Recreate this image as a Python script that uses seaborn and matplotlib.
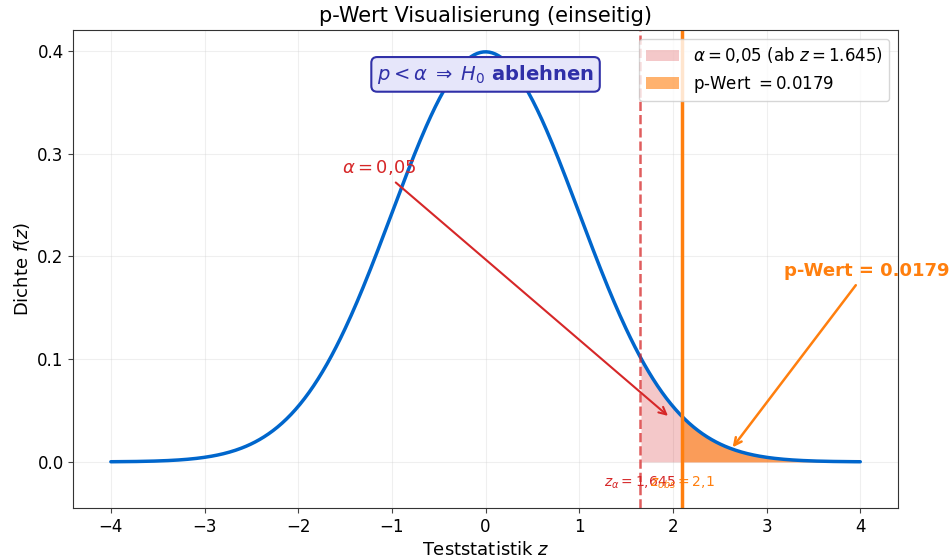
import numpy as np
import pandas as pd
import matplotlib
matplotlib.use("Agg")
import matplotlib.pyplot as plt
import seaborn as sns

# Kennwerte des einseitigen Tests
alpha = 0.05
z_alpha = 1.645
z_obs = 2.1
p_wert = 0.0179
z_range = [-4, 4]

# Standardnormalverteilung
z = np.linspace(z_range[0], z_range[1], 500)
dichte = np.exp(-z ** 2 / 2) / np.sqrt(2 * np.pi)
df = pd.DataFrame({"z": z, "f": dichte})

sns.set_style("ticks", {"axes.edgecolor": "#333333", "text.color": "black",
                        "axes.labelcolor": "black", "xtick.color": "#444444",
                        "ytick.color": "#444444"})
plt.rcParams["font.family"] = ["DejaVu Sans"]

fig, ax = plt.subplots(figsize=(9.53, 5.59), dpi=100)

sns.lineplot(data=df, x="z", y="f", color="#0066cc", linewidth=2.5, ax=ax)

# Ablehnungsbereich und p-Wert-Fläche
mask_a = df["z"] >= z_alpha
ax.fill_between(df["z"][mask_a], df["f"][mask_a], color="#d62728", alpha=0.25,
                linewidth=0, label=r"$\alpha = 0{,}05$ (ab $z = 1.645$)")
mask_p = df["z"] >= z_obs
ax.fill_between(df["z"][mask_p], df["f"][mask_p], color="#ff7f0e", alpha=0.6,
                linewidth=0, label=r"p-Wert $= 0.0179$")

ax.axvline(z_alpha, color="#d62728", linestyle="--", linewidth=1.8, alpha=0.75)
ax.axvline(z_obs, color="#ff7f0e", linewidth=2.5)

# Beschriftungen
ax.annotate(r"$\alpha = 0{,}05$", xy=(1.97, 0.043), xytext=(-1.14, 0.286),
            ha="center", va="center", color="#d62728", fontsize=13,
            arrowprops=dict(arrowstyle="->", color="#d62728", lw=1.5))
ax.annotate("p-Wert = 0.0179", xy=(2.62, 0.012), xytext=(4.07, 0.186),
            ha="center", va="center", color="#ff7f0e", fontsize=13,
            fontweight="bold",
            arrowprops=dict(arrowstyle="->", color="#ff7f0e", lw=1.8))

ax.text(z_alpha, -0.02, r"$z_\alpha = 1{,}645$", color="#d62728",
        ha="center", va="center", fontsize=10)
ax.text(z_obs, -0.02, r"$z_{obs} = 2{,}1$", color="#ff7f0e",
        ha="center", va="center", fontsize=10)

ax.text(0, 0.377, r"$p < \alpha \;\Rightarrow\; H_0$ ablehnen", ha="center",
        va="center", fontsize=14, fontweight="bold", color="#3030a8",
        bbox=dict(boxstyle="round,pad=0.3", facecolor="#e6e6fa",
                  edgecolor="#3030a8", linewidth=1.5))

ax.set_xlim(-4.4, 4.4)
ax.set_ylim(-0.045, 0.42)
ax.set_xlabel(r"Teststatistik $z$", fontsize=13)
ax.set_ylabel(r"Dichte $f(z)$", fontsize=13)
ax.set_title("p-Wert Visualisierung (einseitig)", fontsize=15)
ax.tick_params(labelsize=12, labelcolor="black")
ax.grid(True, alpha=0.3)
ax.legend(loc="upper right", fontsize=12)

fig.subplots_adjust(left=0.077, right=0.942, top=0.946, bottom=0.091)
fig.savefig("out.png", dpi=100)
